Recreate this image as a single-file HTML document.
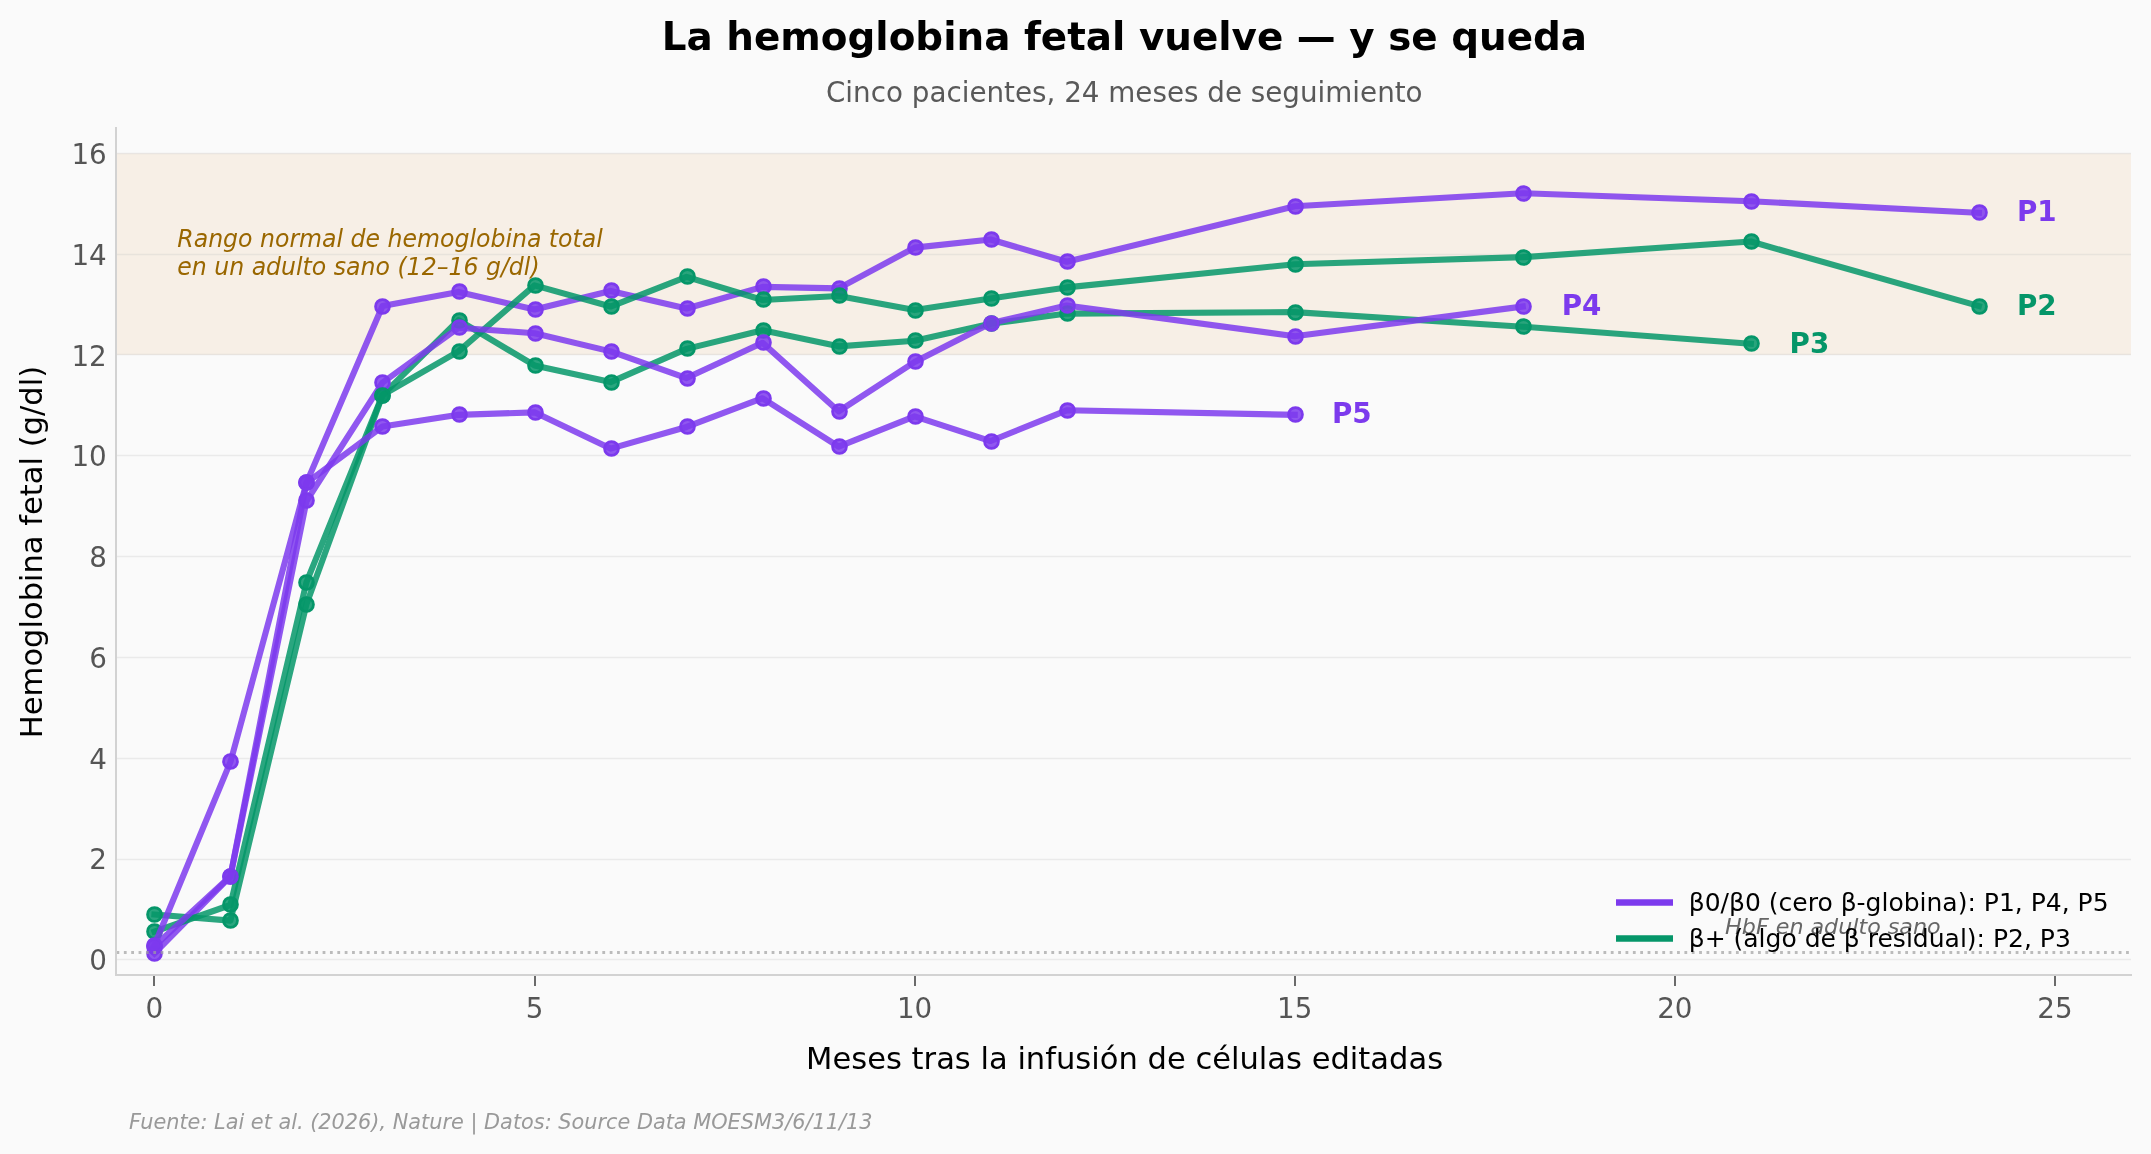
<!DOCTYPE html>
<html><head><meta charset="utf-8"><title>La hemoglobina fetal vuelve — y se queda</title>
<style>html,body{margin:0;padding:0;background:#fafafa;}svg{display:block;will-change:transform;}</style></head>
<body>
<svg width="2151" height="1154" viewBox="0 0 2151 1154" font-family="'DejaVu Sans', 'Liberation Sans', sans-serif">
<rect x="0" y="0" width="2151" height="1154" fill="#fafafa"/>
<rect x="116.42" y="153.40" width="2014.53" height="201.50" fill="#f7efe6"/>
<line x1="116.42" x2="2130.95" y1="959.5" y2="959.5" stroke="#c8c8c8" stroke-opacity="0.3" stroke-width="1.39"/>
<line x1="116.42" x2="2130.95" y1="859.5" y2="859.5" stroke="#c8c8c8" stroke-opacity="0.3" stroke-width="1.39"/>
<line x1="116.42" x2="2130.95" y1="758.5" y2="758.5" stroke="#c8c8c8" stroke-opacity="0.3" stroke-width="1.39"/>
<line x1="116.42" x2="2130.95" y1="657.5" y2="657.5" stroke="#c8c8c8" stroke-opacity="0.3" stroke-width="1.39"/>
<line x1="116.42" x2="2130.95" y1="556.5" y2="556.5" stroke="#c8c8c8" stroke-opacity="0.3" stroke-width="1.39"/>
<line x1="116.42" x2="2130.95" y1="455.5" y2="455.5" stroke="#c8c8c8" stroke-opacity="0.3" stroke-width="1.39"/>
<line x1="116.42" x2="2130.95" y1="354.5" y2="354.5" stroke="#c8c8c8" stroke-opacity="0.3" stroke-width="1.39"/>
<line x1="116.42" x2="2130.95" y1="254.5" y2="254.5" stroke="#c8c8c8" stroke-opacity="0.3" stroke-width="1.39"/>
<line x1="116.42" x2="2130.95" y1="153.5" y2="153.5" stroke="#c8c8c8" stroke-opacity="0.3" stroke-width="1.39"/>
<polyline points="154.43,953.36 230.45,876.28 306.47,482.85 382.49,306.04 458.51,291.93 534.53,309.56 610.55,290.92 686.57,308.55 762.59,286.89 838.61,288.40 914.63,247.60 990.65,239.54 1066.67,261.71 1294.73,206.29 1522.79,193.20 1750.85,201.26 1978.91,212.84" fill="none" stroke="#7c3aed" stroke-opacity="0.85" stroke-width="6.11" stroke-linejoin="round" stroke-linecap="square"/>
<g fill="#7c3aed" fill-opacity="0.85" stroke="#7c3aed" stroke-width="2.778">
<circle cx="154.5" cy="953.5" r="6.944"/>
<circle cx="230.5" cy="876.5" r="6.944"/>
<circle cx="306.5" cy="482.5" r="6.944"/>
<circle cx="382.5" cy="306.5" r="6.944"/>
<circle cx="459.5" cy="291.5" r="6.944"/>
<circle cx="535.5" cy="309.5" r="6.944"/>
<circle cx="611.5" cy="290.5" r="6.944"/>
<circle cx="687.5" cy="308.5" r="6.944"/>
<circle cx="763.5" cy="286.5" r="6.944"/>
<circle cx="839.5" cy="288.5" r="6.944"/>
<circle cx="915.5" cy="247.5" r="6.944"/>
<circle cx="991.5" cy="239.5" r="6.944"/>
<circle cx="1067.5" cy="261.5" r="6.944"/>
<circle cx="1295.5" cy="206.5" r="6.944"/>
<circle cx="1523.5" cy="193.5" r="6.944"/>
<circle cx="1751.5" cy="201.5" r="6.944"/>
<circle cx="1979.5" cy="212.5" r="6.944"/>
</g>
<polyline points="154.43,931.69 230.45,905.00 306.47,582.09 382.49,395.20 458.51,320.14 534.53,365.48 610.55,382.10 686.57,348.86 762.59,330.22 838.61,346.34 914.63,340.79 990.65,323.67 1066.67,313.59 1294.73,312.08 1522.79,326.69 1750.85,343.82" fill="none" stroke="#059669" stroke-opacity="0.85" stroke-width="6.11" stroke-linejoin="round" stroke-linecap="square"/>
<polyline points="154.43,914.57 230.45,920.61 306.47,604.26 382.49,395.20 458.51,351.37 534.53,285.38 610.55,306.54 686.57,276.82 762.59,299.99 838.61,295.96 914.63,310.07 990.65,298.48 1066.67,287.40 1294.73,264.22 1522.79,257.17 1750.85,241.56 1978.91,306.04" fill="none" stroke="#059669" stroke-opacity="0.85" stroke-width="6.11" stroke-linejoin="round" stroke-linecap="square"/>
<polyline points="154.43,946.30 230.45,876.28 306.47,500.99 382.49,382.61 458.51,327.70 534.53,333.24 610.55,351.37 686.57,378.07 762.59,342.81 838.61,411.32 914.63,361.95 990.65,323.16 1066.67,305.53 1294.73,336.26 1522.79,306.54" fill="none" stroke="#7c3aed" stroke-opacity="0.85" stroke-width="6.11" stroke-linejoin="round" stroke-linecap="square"/>
<g fill="#059669" fill-opacity="0.85" stroke="#059669" stroke-width="2.778">
<circle cx="154.5" cy="931.5" r="6.944"/>
<circle cx="230.5" cy="904.5" r="6.944"/>
<circle cx="306.5" cy="582.5" r="6.944"/>
<circle cx="382.5" cy="395.5" r="6.944"/>
<circle cx="459.5" cy="320.5" r="6.944"/>
<circle cx="535.5" cy="365.5" r="6.944"/>
<circle cx="611.5" cy="382.5" r="6.944"/>
<circle cx="687.5" cy="348.5" r="6.944"/>
<circle cx="763.5" cy="330.5" r="6.944"/>
<circle cx="839.5" cy="346.5" r="6.944"/>
<circle cx="915.5" cy="340.5" r="6.944"/>
<circle cx="991.5" cy="323.5" r="6.944"/>
<circle cx="1067.5" cy="313.5" r="6.944"/>
<circle cx="1295.5" cy="312.5" r="6.944"/>
<circle cx="1523.5" cy="326.5" r="6.944"/>
<circle cx="1751.5" cy="343.5" r="6.944"/>
</g>
<g fill="#7c3aed" fill-opacity="0.85" stroke="#7c3aed" stroke-width="2.778">
<circle cx="154.5" cy="946.5" r="6.944"/>
<circle cx="230.5" cy="876.5" r="6.944"/>
<circle cx="306.5" cy="500.5" r="6.944"/>
<circle cx="382.5" cy="382.5" r="6.944"/>
<circle cx="459.5" cy="327.5" r="6.944"/>
<circle cx="535.5" cy="333.5" r="6.944"/>
<circle cx="611.5" cy="351.5" r="6.944"/>
<circle cx="687.5" cy="378.5" r="6.944"/>
<circle cx="763.5" cy="342.5" r="6.944"/>
<circle cx="839.5" cy="411.5" r="6.944"/>
<circle cx="915.5" cy="361.5" r="6.944"/>
<circle cx="991.5" cy="323.5" r="6.944"/>
<circle cx="1067.5" cy="305.5" r="6.944"/>
<circle cx="1295.5" cy="336.5" r="6.944"/>
<circle cx="1523.5" cy="306.5" r="6.944"/>
</g>
<g fill="#059669" fill-opacity="0.85" stroke="#059669" stroke-width="2.778">
<circle cx="154.5" cy="914.5" r="6.944"/>
<circle cx="230.5" cy="920.5" r="6.944"/>
<circle cx="306.5" cy="604.5" r="6.944"/>
<circle cx="382.5" cy="395.5" r="6.944"/>
<circle cx="459.5" cy="351.5" r="6.944"/>
<circle cx="535.5" cy="285.5" r="6.944"/>
<circle cx="611.5" cy="306.5" r="6.944"/>
<circle cx="687.5" cy="276.5" r="6.944"/>
<circle cx="763.5" cy="299.5" r="6.944"/>
<circle cx="839.5" cy="295.5" r="6.944"/>
<circle cx="915.5" cy="310.5" r="6.944"/>
<circle cx="991.5" cy="298.5" r="6.944"/>
<circle cx="1067.5" cy="287.5" r="6.944"/>
<circle cx="1295.5" cy="264.5" r="6.944"/>
<circle cx="1523.5" cy="257.5" r="6.944"/>
<circle cx="1751.5" cy="241.5" r="6.944"/>
<circle cx="1979.5" cy="306.5" r="6.944"/>
</g>
<polyline points="154.43,945.29 230.45,761.93 306.47,482.85 382.49,426.43 458.51,414.85 534.53,412.33 610.55,448.60 686.57,426.94 762.59,398.22 838.61,446.58 914.63,416.36 990.65,441.04 1066.67,410.31 1294.73,414.85" fill="none" stroke="#7c3aed" stroke-opacity="0.85" stroke-width="6.11" stroke-linejoin="round" stroke-linecap="square"/>
<g fill="#7c3aed" fill-opacity="0.85" stroke="#7c3aed" stroke-width="2.778">
<circle cx="154.5" cy="945.5" r="6.944"/>
<circle cx="230.5" cy="761.5" r="6.944"/>
<circle cx="306.5" cy="482.5" r="6.944"/>
<circle cx="382.5" cy="426.5" r="6.944"/>
<circle cx="459.5" cy="414.5" r="6.944"/>
<circle cx="535.5" cy="412.5" r="6.944"/>
<circle cx="611.5" cy="448.5" r="6.944"/>
<circle cx="687.5" cy="426.5" r="6.944"/>
<circle cx="763.5" cy="398.5" r="6.944"/>
<circle cx="839.5" cy="446.5" r="6.944"/>
<circle cx="915.5" cy="416.5" r="6.944"/>
<circle cx="991.5" cy="441.5" r="6.944"/>
<circle cx="1067.5" cy="410.5" r="6.944"/>
<circle cx="1295.5" cy="414.5" r="6.944"/>
</g>
<line x1="116.5" x2="2130.95" y1="952.5" y2="952.5" stroke="#a0a0a0" stroke-opacity="0.7" stroke-width="2.778" stroke-dasharray="2.7778 4.5833"/>
<line x1="154" x2="154" y1="975" y2="985.9" stroke="#6a6a6a" stroke-width="2"/>
<text x="154.43" y="1018.4" font-size="27.78" fill="#555555" text-anchor="middle">0</text>
<line x1="535" x2="535" y1="975" y2="985.9" stroke="#6a6a6a" stroke-width="2"/>
<text x="534.53" y="1018.4" font-size="27.78" fill="#555555" text-anchor="middle">5</text>
<line x1="915" x2="915" y1="975" y2="985.9" stroke="#6a6a6a" stroke-width="2"/>
<text x="914.63" y="1018.4" font-size="27.78" fill="#555555" text-anchor="middle">10</text>
<line x1="1295" x2="1295" y1="975" y2="985.9" stroke="#6a6a6a" stroke-width="2"/>
<text x="1294.73" y="1018.4" font-size="27.78" fill="#555555" text-anchor="middle">15</text>
<line x1="1675" x2="1675" y1="975" y2="985.9" stroke="#6a6a6a" stroke-width="2"/>
<text x="1674.83" y="1018.4" font-size="27.78" fill="#555555" text-anchor="middle">20</text>
<line x1="2055" x2="2055" y1="975" y2="985.9" stroke="#6a6a6a" stroke-width="2"/>
<text x="2054.93" y="1018.4" font-size="27.78" fill="#555555" text-anchor="middle">25</text>
<line x1="116" x2="116" y1="127" y2="976" stroke="#d2d2d2" stroke-width="2"/>
<line x1="115" x2="2132" y1="975" y2="975" stroke="#d2d2d2" stroke-width="2"/>
<text x="106.8" y="970.00" font-size="27.78" fill="#555555" text-anchor="end">0</text>
<text x="106.8" y="869.25" font-size="27.78" fill="#555555" text-anchor="end">2</text>
<text x="106.8" y="768.50" font-size="27.78" fill="#555555" text-anchor="end">4</text>
<text x="106.8" y="667.75" font-size="27.78" fill="#555555" text-anchor="end">6</text>
<text x="106.8" y="567.00" font-size="27.78" fill="#555555" text-anchor="end">8</text>
<text x="106.8" y="466.25" font-size="27.78" fill="#555555" text-anchor="end">10</text>
<text x="106.8" y="365.50" font-size="27.78" fill="#555555" text-anchor="end">12</text>
<text x="106.8" y="264.75" font-size="27.78" fill="#555555" text-anchor="end">14</text>
<text x="106.8" y="164.00" font-size="27.78" fill="#555555" text-anchor="end">16</text>
<text x="2017.0" y="221.0" font-size="27.78" font-weight="bold" fill="#7c3aed">P1</text>
<text x="2017.0" y="315.0" font-size="27.78" font-weight="bold" fill="#059669">P2</text>
<text x="1789.6" y="352.7" font-size="27.78" font-weight="bold" fill="#059669">P3</text>
<text x="1561.7" y="314.9" font-size="27.78" font-weight="bold" fill="#7c3aed">P4</text>
<text x="1332.0" y="422.6" font-size="27.78" font-weight="bold" fill="#7c3aed">P5</text>
<text transform="translate(177.3,246.8) scale(1,1.05)" font-size="23.61" font-style="italic" fill="#9a6700">Rango normal de hemoglobina total</text>
<text transform="translate(177.3,274.8) scale(1,1.05)" font-size="23.61" font-style="italic" fill="#9a6700">en un adulto sano (12–16 g/dl)</text>
<text transform="translate(1725.1,933.7) scale(1,0.95)" font-size="22.22" font-style="italic" fill="#666666">HbF en adulto sano</text>
<line x1="1616" x2="1673" y1="902.5" y2="902.5" stroke="#7c3aed" stroke-width="6.67"/>
<line x1="1616" x2="1673" y1="938.5" y2="938.5" stroke="#059669" stroke-width="6.67"/>
<text x="1688.7" y="911.0" font-size="25" fill="#000000">β0/β0 (cero β-globina): P1, P4, P5</text>
<text x="1688.7" y="947.0" font-size="25" fill="#000000">β+ (algo de β residual): P2, P3</text>
<text x="1124.4" y="50.0" font-size="38.89" font-weight="bold" fill="#000000" text-anchor="middle">La hemoglobina fetal vuelve — y se queda</text>
<text x="1124.3" y="102.4" font-size="27.78" fill="#595959" text-anchor="middle">Cinco pacientes, 24 meses de seguimiento</text>
<text x="1124.6" y="1069.4" font-size="30.56" fill="#000000" text-anchor="middle">Meses tras la infusión de células editadas</text>
<text transform="translate(41.9,552) rotate(-90)" x="0" y="0" font-size="30.56" fill="#000000" text-anchor="middle">Hemoglobina fetal (g/dl)</text>
<text x="129.1" y="1128.6" font-size="20.83" font-style="italic" fill="#999999">Fuente: Lai et al. (2026), Nature | Datos: Source Data MOESM3/6/11/13</text>
</svg>
</body></html>
